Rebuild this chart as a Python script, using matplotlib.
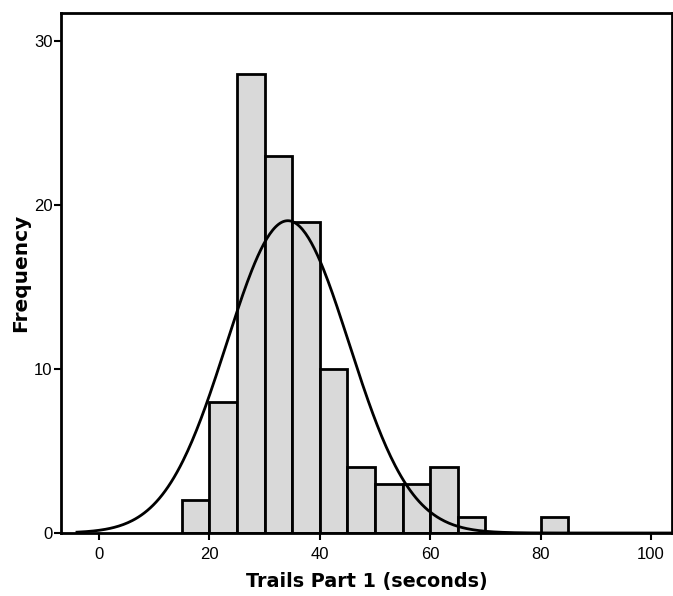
import numpy as np
import matplotlib.pyplot as plt

# histogram bins (left edges, width 5) and counts
bin_starts = [15, 20, 25, 30, 35, 40, 45, 50, 55, 60, 65, 80]
counts = [2, 8, 28, 23, 19, 10, 4, 3, 3, 4, 1, 1]
bin_width = 5

# normal curve fitted to the data
mean_val = 34.2
sd_val = 11.1
n_total = sum(counts)

x_ticks = [0, 20, 40, 60, 80, 100]
y_ticks = [0, 10, 20, 30]

plt.rcParams['font.family'] = ['Liberation Sans', 'DejaVu Sans']

fig = plt.figure(figsize=(6.73, 5.96), dpi=100)
ax = fig.add_axes([0.0906, 0.1057, 0.908, 0.872])

ax.bar(bin_starts, counts, width=bin_width, align='edge',
       color='#d9d9d9', edgecolor='black', linewidth=2)

xs = np.linspace(-4, 104, 400)
ys = n_total * bin_width / (sd_val * np.sqrt(2 * np.pi)) * np.exp(-(xs - mean_val) ** 2 / (2 * sd_val ** 2))
ax.plot(xs, ys, color='black', linewidth=2)

ax.set_xlim(-6.9, 103.8)
ax.set_ylim(0, 31.7)
ax.set_xticks(x_ticks)
ax.set_yticks(y_ticks)

for s in ax.spines.values():
    s.set_linewidth(2)

ax.tick_params(axis='both', length=5, width=1.5, labelsize=12)
ax.tick_params(axis='x', pad=5)
ax.tick_params(axis='y', pad=1)
ax.set_xlabel('Trails Part 1 (seconds)', fontsize=13.8, fontweight='bold',
              family='DejaVu Sans', labelpad=7)
ax.set_ylabel('Frequency', fontsize=14.5, fontweight='bold',
              family='DejaVu Sans', labelpad=3)

fig.savefig('out.png', dpi=100)
